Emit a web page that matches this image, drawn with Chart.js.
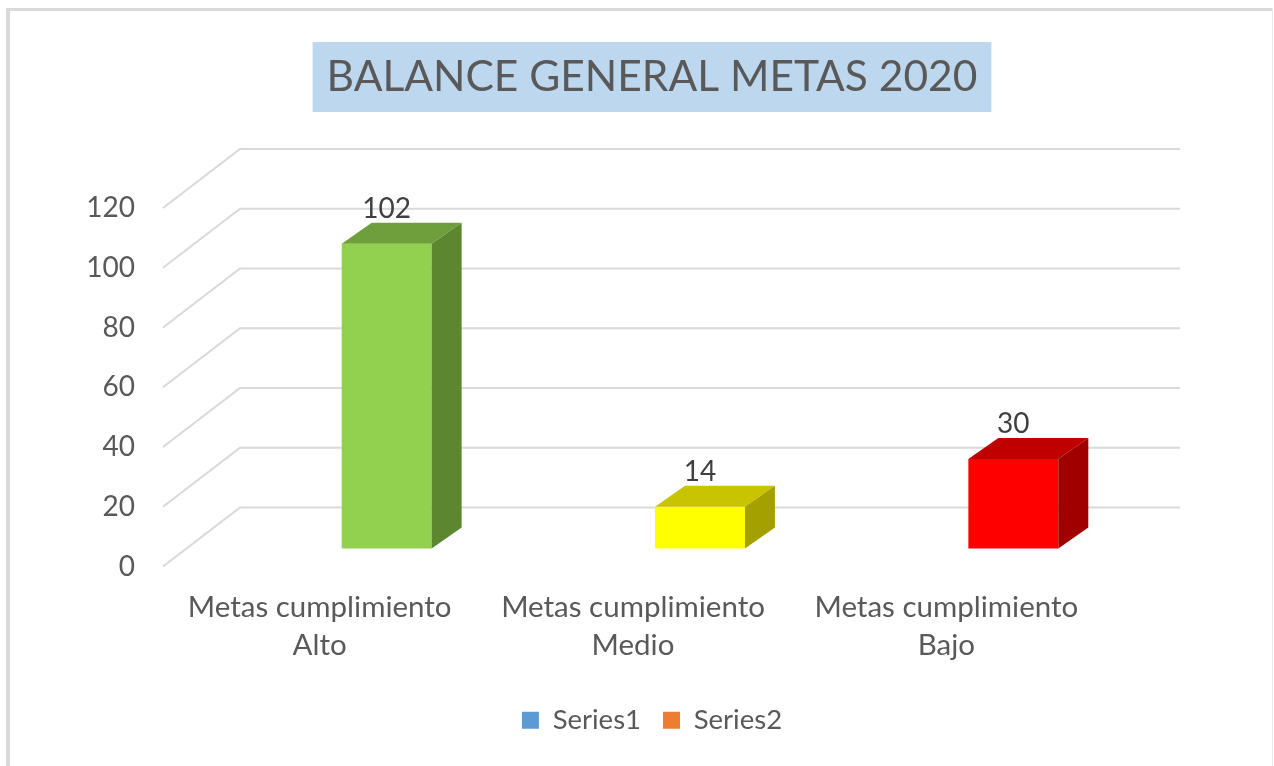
<!DOCTYPE html>
<html>
<head>
<meta charset="utf-8">
<script src="https://cdn.jsdelivr.net/npm/chart.js@4/dist/chart.umd.min.js"></script>
<style>
html,body{margin:0;padding:0;background:#fff;}
#wrap{width:1274px;height:766px;position:relative;}
</style>
</head>
<body>
<div id="wrap"><canvas id="c" width="1274" height="766"></canvas></div>
<script>
// ---- data ----
const categories = [["Metas cumplimiento", "Alto"], ["Metas cumplimiento", "Medio"], ["Metas cumplimiento", "Bajo"]];
const series1Values = [102, 14, 30];
const series2Values = [null, null, null];
const seriesNames = ["Series1", "Series2"];
const legendColors = ["#5B9BD5", "#ED7D31"];
const barFront = ["#92D050", "#FFFF00", "#FF0000"];
const barTop = ["#6F9F3C", "#C8C400", "#C00000"];
const barSide = ["#5C8630", "#A4A000", "#A00000"];
const yTicksMin = 0, yTicksMax = 120, yTicksStep = 20;

// ---- 3D geometry (pixels) ----
const WALL_DX = 77, WALL_DY = -59;   // floor front -> back wall
const BAR_DX = 67, BAR_DY = -18;     // floor front -> bar front face
const DEPTH_DX = 30, DEPTH_DY = -21;  // bar front -> bar back
const FONT = "Lato, 'Open Sans', sans-serif";

const threeD = {
  id: 'threeD',
  beforeDraw(chart) {
    const ctx = chart.ctx;
    ctx.save();
    ctx.fillStyle = '#fff';
    ctx.fillRect(0, 0, chart.width, chart.height);
    // outer border
    ctx.fillStyle = '#D9D9D9';
    ctx.fillRect(6, 8, 4, chart.height - 8);
    ctx.fillRect(6, 8, 1267, 3);
    ctx.fillStyle = '#EBEBEB';
    ctx.fillRect(1272, 8, 1, chart.height - 8);
    // title background box
    const tb = chart.titleBlock;
    if (tb) {
      const to = chart.options.plugins.title;
      ctx.font = to.font.weight + ' ' + to.font.size + 'px ' + to.font.family;
      const tw = ctx.measureText(to.text).width;
      const cx = (tb.left + tb.right) / 2;
      const cy = tb.top + to.padding.top + to.font.size * to.font.lineHeight / 2;
      ctx.fillStyle = '#BDD7EE';
      ctx.fillRect(cx - tw / 2 - 14, cy - 35, tw + 28, 70);
    }
    ctx.restore();
  },
  beforeDatasetsDraw(chart) {
    const ctx = chart.ctx;
    const ys = chart.scales.y;
    const area = chart.chartArea;
    ctx.save();
    // gridlines: floor-front diagonal + back wall horizontal
    ctx.strokeStyle = '#D9D9D9';
    ctx.lineWidth = 2;
    ys.ticks.forEach(t => {
      const yF = ys.getPixelForValue(t.value);
      ctx.beginPath();
      ctx.moveTo(area.left, yF);
      ctx.lineTo(area.left + WALL_DX, yF + WALL_DY);
      ctx.lineTo(area.right + WALL_DX, yF + WALL_DY);
      ctx.stroke();
    });
    // shift the bars onto their depth plane
    ctx.translate(BAR_DX, BAR_DY);
  },
  afterDatasetsDraw(chart) {
    const ctx = chart.ctx;
    const meta = chart.getDatasetMeta(0);
    meta.data.forEach((bar, i) => {
      const v = series1Values[i];
      if (v === null || v === undefined) return;
      const p = bar.getProps(['x', 'y', 'base', 'width'], true);
      const l = p.x - p.width / 2, r = p.x + p.width / 2;
      // top face
      ctx.fillStyle = barTop[i];
      ctx.beginPath();
      ctx.moveTo(l, p.y);
      ctx.lineTo(l + DEPTH_DX, p.y + DEPTH_DY);
      ctx.lineTo(r + DEPTH_DX, p.y + DEPTH_DY);
      ctx.lineTo(r, p.y);
      ctx.closePath();
      ctx.fill();
      // side face
      ctx.fillStyle = barSide[i];
      ctx.beginPath();
      ctx.moveTo(r, p.y);
      ctx.lineTo(r + DEPTH_DX, p.y + DEPTH_DY);
      ctx.lineTo(r + DEPTH_DX, p.base + DEPTH_DY);
      ctx.lineTo(r, p.base);
      ctx.closePath();
      ctx.fill();
      // value label
      ctx.fillStyle = '#404040';
      ctx.font = '28px ' + FONT;
      ctx.textAlign = 'center';
      ctx.textBaseline = 'middle';
      ctx.fillText(String(v), p.x, p.y + DEPTH_DY - 14);
    });
    ctx.restore();
  }
};

new Chart(document.getElementById('c'), {
  type: 'bar',
  data: {
    labels: categories,
    datasets: [
      { label: seriesNames[0], data: series1Values, backgroundColor: barFront, borderWidth: 0,
        grouped: false, barPercentage: 0.287, categoryPercentage: 1, clip: false },
      { label: seriesNames[1], data: series2Values, backgroundColor: legendColors[1], borderWidth: 0,
        grouped: false, barPercentage: 0.287, categoryPercentage: 1, clip: false }
    ]
  },
  options: {
    responsive: false,
    animation: false,
    devicePixelRatio: 1,
    layout: { padding: { left: 38, right: 8, top: 0, bottom: 22 } },
    plugins: {
      tooltip: { enabled: false },
      title: {
        display: true,
        text: 'BALANCE GENERAL METAS 2020',
        color: '#595959',
        font: { family: FONT, size: 42.5, weight: 'normal', lineHeight: 1.2 },
        padding: { top: 51.5, bottom: 105.5 }
      },
      legend: {
        display: true,
        position: 'bottom',
        labels: {
          color: '#595959',
          font: { family: FONT, size: 27.5 },
          boxWidth: 17,
          boxHeight: 17,
          padding: 22,
          generateLabels() {
            return seriesNames.map((n, i) => ({
              text: n, fillStyle: legendColors[i], strokeStyle: legendColors[i],
              lineWidth: 0, hidden: false, datasetIndex: i, fontColor: '#595959'
            }));
          }
        }
      }
    },
    scales: {
      x: {
        grid: { display: false, drawTicks: false },
        border: { display: false },
        ticks: {
          color: '#595959',
          font: { family: FONT, size: 29.5, lineHeight: 1.29 },
          padding: 22,
          maxRotation: 0,
          autoSkip: false
        },
        afterFit(s) { s.height = 118; }
      },
      y: {
        min: yTicksMin,
        max: yTicksMax,
        grid: { display: false, drawTicks: false },
        border: { display: false },
        ticks: {
          stepSize: yTicksStep,
          color: '#595959',
          font: { family: FONT, size: 28 },
          padding: 28
        },
        afterFit(s) { s.width = 125; }
      },
      yRight: {
        type: 'linear',
        position: 'right',
        display: true,
        grid: { display: false, drawTicks: false },
        border: { display: false },
        ticks: { display: false },
        afterFit(s) { s.width = 163; }
      }
    }
  },
  plugins: [threeD]
});
</script>
</body>
</html>
